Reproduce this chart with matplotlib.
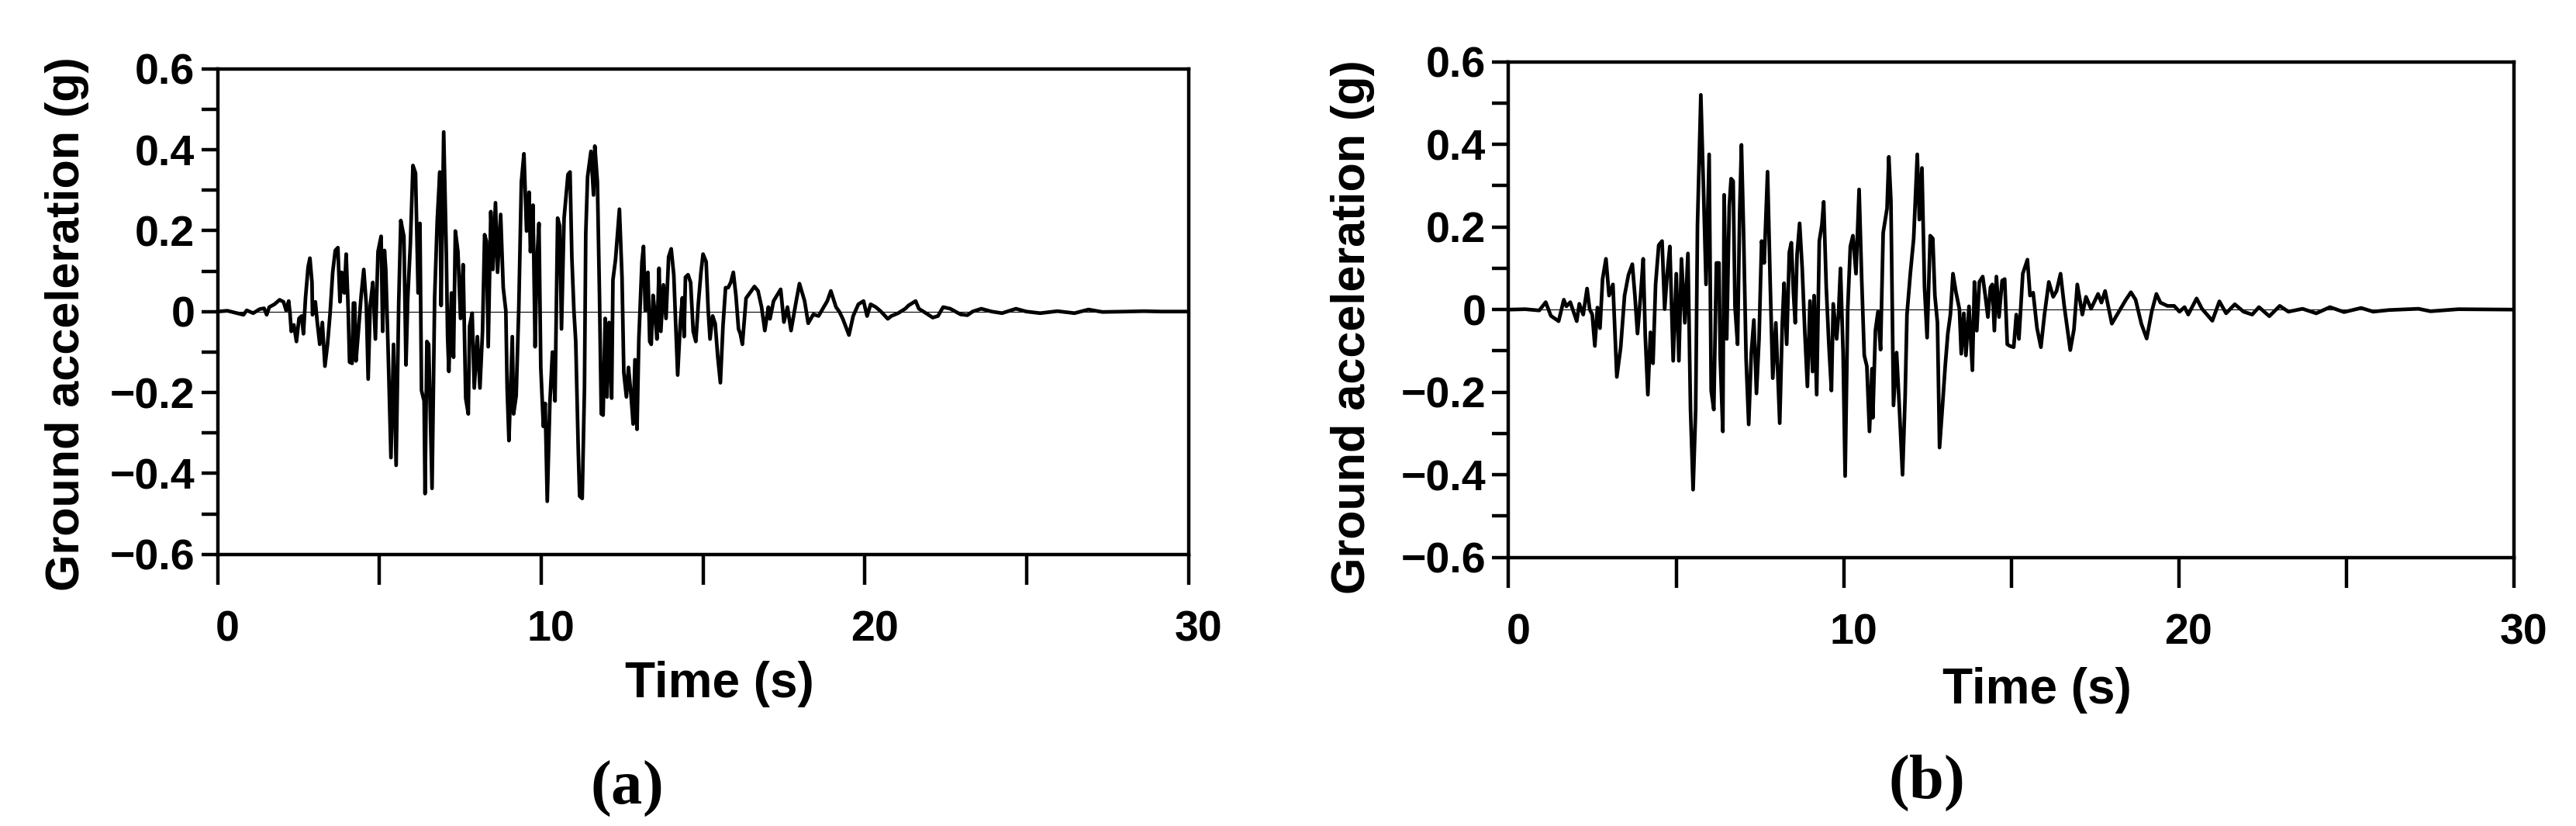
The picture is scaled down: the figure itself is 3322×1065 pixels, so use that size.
import numpy as np
import matplotlib
matplotlib.use('Agg')
import matplotlib.pyplot as plt
from matplotlib import font_manager
from matplotlib.transforms import ScaledTranslation

plt.rcParams['font.family'] = 'Liberation Sans'
plt.rcParams['font.weight'] = 'bold'
plt.rcParams['mathtext.fontset'] = 'custom'
plt.rcParams['mathtext.rm'] = 'Liberation Serif'
plt.rcParams['mathtext.bf'] = 'Liberation Serif:bold'

installed = {f.name for f in font_manager.fontManager.ttflist}
tick_font = 'Liberation Sans Narrow' if 'Liberation Sans Narrow' in installed else 'Liberation Sans'

# record (a)
t_a = [0.0, 0.3, 0.6, 0.8, 0.9, 1.1, 1.3, 1.437, 1.517, 1.597, 1.757, 1.917, 2.037, 2.117, 2.197,
       2.237, 2.277, 2.357, 2.437, 2.517, 2.597, 2.653, 2.717, 2.797, 2.853, 2.917, 2.933, 3.021,
       3.077, 3.157, 3.237, 3.317, 3.397, 3.477, 3.557, 3.637, 3.717, 3.781, 3.837, 3.917, 3.973,
       4.037, 4.077, 4.157, 4.197, 4.237, 4.277, 4.357, 4.437, 4.517, 4.597, 4.653, 4.717, 4.797,
       4.877, 4.957, 5.053, 5.101, 5.157, 5.197, 5.277, 5.357, 5.437, 5.517, 5.597, 5.661, 5.757,
       5.821, 5.877, 5.957, 6.037, 6.117, 6.197, 6.253, 6.301, 6.381, 6.411, 6.467, 6.523, 6.627,
       6.707, 6.787, 6.867, 6.907, 6.987, 7.067, 7.107, 7.147, 7.227, 7.291, 7.347, 7.427, 7.507,
       7.587, 7.667, 7.747, 7.787, 7.867, 7.931, 8.027, 8.107, 8.187, 8.251, 8.307, 8.363, 8.443,
       8.507, 8.587, 8.651, 8.747, 8.827, 8.907, 8.947, 9.003, 9.107, 9.147, 9.227, 9.307, 9.387,
       9.467, 9.547, 9.627, 9.667, 9.747, 9.811, 9.867, 9.931, 9.987, 10.067, 10.123, 10.187,
       10.267, 10.347, 10.427, 10.507, 10.571, 10.627, 10.707, 10.827, 10.891, 10.947, 11.011,
       11.067, 11.147, 11.187, 11.267, 11.337, 11.377, 11.433, 11.537, 11.617, 11.657, 11.737,
       11.801, 11.857, 11.913, 11.977, 12.033, 12.097, 12.177, 12.217, 12.297, 12.417, 12.497,
       12.553, 12.633, 12.697, 12.777, 12.841, 12.897, 12.961, 13.017, 13.113, 13.161, 13.217,
       13.297, 13.353, 13.401, 13.457, 13.513, 13.577, 13.641, 13.697, 13.777, 13.857, 13.937,
       14.017, 14.097, 14.153, 14.217, 14.297, 14.361, 14.417, 14.457, 14.537, 14.617, 14.697,
       14.777, 14.857, 14.937, 15.001, 15.097, 15.161, 15.217, 15.297, 15.377, 15.457, 15.537,
       15.617, 15.697, 15.777, 15.857, 15.937, 16.017, 16.097, 16.153, 16.217, 16.33, 16.43, 16.59,
       16.70, 16.81, 16.91, 17.02, 17.07, 17.18, 17.40, 17.50, 17.61, 17.72, 17.88, 17.98, 18.14,
       18.25, 18.41, 18.57, 18.68, 18.84, 18.95, 19.11, 19.21, 19.32, 19.51, 19.64, 19.80, 19.96,
       20.07, 20.18, 20.34, 20.50, 20.71, 20.82, 21.03, 21.25, 21.35, 21.57, 21.67, 21.89, 22.10,
       22.26, 22.42, 22.64, 22.96, 23.17, 23.33, 23.60, 23.92, 24.24, 24.67, 24.99, 25.42, 25.95,
       26.48, 26.91, 27.34, 28.09, 28.62, 29.16, 30.0]
acc_a = [0.0, 0.002, -0.004, -0.008, 0.003, -0.004, 0.006, 0.008, -0.008, 0.011, 0.018, 0.029, 0.024,
         0.003, 0.026, -0.004, -0.049, -0.033, -0.074, -0.017, -0.011, -0.055, 0.034, 0.110, 0.132,
         0.072, -0.008, 0.024, -0.024, -0.081, -0.027, -0.135, -0.081, -0.004, 0.097, 0.151, 0.158,
         0.024, 0.097, 0.046, 0.142, 0.002, -0.125, -0.128, 0.021, 0.021, -0.122, -0.043, 0.040,
         0.104, 0.015, -0.167, 0.015, 0.072, -0.068, 0.148, 0.186, -0.049, 0.151, 0.104, -0.116,
         -0.361, -0.081, -0.380, 0.021, 0.225, 0.186, -0.132, 0.034, 0.167, 0.361, 0.342, 0.046,
         0.218, -0.195, -0.221, -0.450, -0.074, -0.081, -0.437, 0.034, 0.225, 0.345, 0.015, 0.444,
         0.148, -0.062, -0.148, 0.046, -0.113, 0.199, 0.148, -0.017, 0.116, -0.214, -0.253, -0.036,
         -0.004, -0.189, -0.062, -0.189, -0.049, 0.190, 0.174, -0.087, 0.247, 0.104, 0.269, 0.097,
         0.240, 0.059, 0.002, -0.189, -0.319, -0.062, -0.253, -0.208, 0.008, 0.320, 0.390, 0.199,
         0.295, 0.148, 0.263, -0.087, 0.123, 0.218, -0.138, -0.284, -0.227, -0.469, -0.227, -0.100,
         -0.221, 0.231, 0.212, -0.043, 0.231, 0.339, 0.345, 0.135, 0.002, -0.074, -0.348, -0.456,
         -0.462, -0.189, 0.193, 0.333, 0.396, 0.288, 0.409, 0.320, 0.040, -0.253, -0.256, -0.017,
         -0.211, -0.027, -0.214, 0.078, 0.129, 0.253, 0.085, -0.151, -0.211, -0.138, -0.208, -0.278,
         -0.119, -0.291, -0.068, 0.123, 0.161, 0.002, 0.097, -0.074, -0.081, 0.040, -0.004, -0.068,
         0.107, -0.049, 0.066, -0.017, 0.135, 0.155, 0.091, -0.024, -0.157, -0.030, 0.034, -0.062,
         0.085, 0.091, 0.072, -0.049, -0.074, 0.021, 0.097, 0.142, 0.123, 0.002, -0.068, -0.011,
         -0.030, -0.113, -0.176, -0.036, 0.059, 0.059, 0.072, 0.097, 0.040, -0.043, -0.055, -0.081,
         0.033, 0.044, 0.062, 0.051, 0.011, -0.047, 0.011, -0.018, 0.026, 0.055, -0.026, 0.011,
         -0.047, 0.026, 0.069, 0.026, -0.029, -0.007, -0.011, 0.004, 0.026, 0.051, 0.011, 0.0,
         -0.018, -0.058, -0.011, 0.018, 0.026, -0.011, 0.018, 0.011, 0.0, -0.018, -0.011, -0.004,
         0.007, 0.015, 0.026, 0.007, -0.004, -0.015, -0.011, 0.011, 0.007, -0.007, -0.009, 0.0,
         0.007, 0.0, -0.004, 0.007, 0.0, -0.004, 0.001, -0.004, 0.005, -0.001, 0.0, 0.001, 0.0, 0.0]

# record (b)
t_b = [0.0, 0.5, 0.914, 1.107, 1.261, 1.493, 1.647, 1.724, 1.840, 2.033, 2.110, 2.226, 2.341, 2.419,
       2.496, 2.573, 2.650, 2.727, 2.804, 2.905, 2.997, 3.113, 3.229, 3.345, 3.460, 3.576, 3.692,
       3.769, 3.846, 3.939, 4.016, 4.078, 4.155, 4.232, 4.309, 4.386, 4.479, 4.579, 4.656, 4.733,
       4.811, 4.911, 5.003, 5.081, 5.158, 5.258, 5.351, 5.428, 5.505, 5.582, 5.636, 5.736, 5.814,
       5.891, 5.984, 6.045, 6.123, 6.200, 6.277, 6.315, 6.393, 6.431, 6.508, 6.585, 6.639, 6.701,
       6.755, 6.832, 6.894, 6.948, 7.010, 7.087, 7.164, 7.241, 7.318, 7.396, 7.473, 7.550, 7.627,
       7.727, 7.805, 7.882, 7.974, 8.090, 8.167, 8.221, 8.298, 8.376, 8.437, 8.499, 8.553, 8.607,
       8.684, 8.761, 8.839, 8.916, 8.993, 9.070, 9.116, 9.193, 9.271, 9.348, 9.402, 9.479, 9.556,
       9.633, 9.687, 9.788, 9.842, 9.903, 9.981, 10.042, 10.119, 10.197, 10.274, 10.366, 10.459,
       10.536, 10.613, 10.690, 10.768, 10.845, 10.868, 10.945, 11.022, 11.099, 11.177, 11.292,
       11.346, 11.408, 11.485, 11.578, 11.655, 11.755, 11.833, 11.887, 11.987, 12.087, 12.195,
       12.257, 12.334, 12.411, 12.488, 12.581, 12.658, 12.720, 12.797, 12.859, 12.951, 13.028,
       13.106, 13.183, 13.260, 13.352, 13.453, 13.507, 13.584, 13.646, 13.738, 13.839, 13.900,
       13.970, 14.047, 14.147, 14.224, 14.302, 14.379, 14.433, 14.495, 14.556, 14.634, 14.726,
       14.803, 14.880, 14.958, 15.073, 15.150, 15.228, 15.343, 15.482, 15.559, 15.652, 15.768,
       15.884, 15.99, 16.12, 16.25, 16.35, 16.47, 16.58, 16.76, 16.87, 16.97, 17.12, 17.23, 17.38,
       17.59, 17.69, 17.80, 17.90, 18.00, 18.11, 18.21, 18.42, 18.57, 18.71, 18.88, 19.04, 19.19,
       19.33, 19.45, 19.66, 19.86, 20.02, 20.17, 20.28, 20.53, 20.69, 20.84, 21.00, 21.21, 21.41,
       21.67, 21.93, 22.19, 22.39, 22.70, 23.01, 23.27, 23.69, 24.10, 24.51, 24.93, 25.44, 25.80,
       26.27, 27.15, 27.51, 28.34, 30.0]
acc_b = [0.0, 0.001, -0.002, 0.018, -0.015, -0.028, 0.024, 0.008, 0.018, -0.028, 0.014, -0.012, 0.051,
         0.001, -0.012, -0.088, 0.005, -0.045, 0.074, 0.123, 0.034, 0.061, -0.163, -0.091, 0.034,
         0.084, 0.110, 0.034, -0.058, 0.034, 0.123, -0.064, -0.206, -0.055, -0.130, 0.061, 0.156,
         0.166, 0.001, 0.087, 0.153, -0.124, 0.087, -0.124, 0.123, -0.032, 0.136, -0.242, -0.436,
         -0.242, 0.205, 0.520, 0.297, 0.061, 0.376, -0.196, -0.242, 0.113, 0.113, -0.117, -0.295,
         0.278, -0.071, 0.251, 0.317, 0.311, 0.008, -0.084, 0.232, 0.399, 0.192, -0.120, -0.278,
         -0.107, -0.025, -0.203, -0.071, 0.166, 0.113, 0.334, 0.067, -0.166, -0.032, -0.275, -0.032,
         0.064, -0.084, 0.139, 0.162, 0.041, -0.032, 0.133, 0.209, 0.100, -0.055, -0.186, 0.021,
         -0.150, 0.034, -0.206, 0.166, 0.205, 0.261, 0.054, -0.084, -0.196, 0.014, -0.071, -0.015,
         0.100, -0.104, -0.403, 0.001, 0.153, 0.179, 0.087, 0.291, 0.074, -0.111, -0.137, -0.295,
         -0.143, -0.262, -0.051, -0.005, -0.097, 0.186, 0.245, 0.370, 0.264, -0.232, -0.104, -0.229,
         -0.400, -0.209, -0.012, 0.087, 0.172, 0.376, 0.218, 0.343, 0.054, -0.068, 0.179, 0.172,
         0.034, -0.032, -0.334, -0.229, -0.137, -0.058, -0.012, 0.087, 0.041, 0.001, -0.107, -0.009,
         -0.111, 0.008, -0.147, 0.067, -0.051, 0.067, 0.080, 0.034, -0.018, 0.054, 0.061, -0.051,
         0.080, -0.018, 0.070, 0.074, -0.084, -0.088, -0.091, -0.012, -0.071, 0.087, 0.121, 0.034,
         0.041, -0.045, -0.091, -0.012, 0.067, 0.031, 0.045, 0.087, 0.009, -0.098, -0.048, 0.061,
         -0.012, 0.031, 0.002, 0.038, 0.017, 0.045, 0.006, -0.034, -0.019, -0.005, 0.024, 0.042,
         0.024, -0.034, -0.070, -0.005, 0.038, 0.017, 0.009, 0.009, -0.005, 0.006, -0.012, 0.027,
         0.002, -0.012, -0.027, 0.020, -0.009, 0.013, -0.005, -0.012, 0.006, -0.016, 0.009, -0.005,
         0.002, -0.009, 0.006, -0.006, 0.004, -0.005, -0.001, 0.002, -0.004, 0.001, 0.0]

x_ticks = [0, 5, 10, 15, 20, 25, 30]
x_labels = ['0', '', '10', '', '20', '', '30']
y_ticks = [-0.6, -0.5, -0.4, -0.3, -0.2, -0.1, 0.0, 0.1, 0.2, 0.3, 0.4, 0.5, 0.6]
y_labels = ['\u22120.6', '', '\u22120.4', '', '\u22120.2', '', '0', '', '0.2', '', '0.4', '', '0.6']

W, H = 3323, 1065
fig = plt.figure(figsize=(W / 100, H / 100), dpi=100)


def px(x, y):
    return x / W, 1 - y / H


def draw(rect, t, acc, ylab_xy, xlab_xy, tag_xy, tag):
    ax = fig.add_axes(rect)
    ax.plot(t, acc, color='black', lw=3.4)
    ax.axhline(0, color='black', lw=0.8, zorder=1)
    ax.set_xlim(0, 30)
    ax.set_ylim(-0.6, 0.6)
    ax.set_xticks(x_ticks)
    ax.set_xticklabels(x_labels)
    ax.set_yticks(y_ticks)
    ax.set_yticklabels(y_labels)
    ax.tick_params(axis='x', direction='out', length=28, width=3.2, pad=24, labelsize=40)
    ax.tick_params(axis='y', direction='out', length=15, width=3.2, pad=6, labelsize=40)
    for lab in ax.get_xticklabels() + ax.get_yticklabels():
        lab.set_family(tick_font)
        lab.set_weight('bold')
    for lab in ax.get_xticklabels():
        lab.set_transform(lab.get_transform() + ScaledTranslation(9 / 72, 0, fig.dpi_scale_trans))
    for s in ax.spines.values():
        s.set_linewidth(3.2)
    fig.text(*px(*ylab_xy), 'Ground acceleration (g)', rotation=90, ha='center', va='center',
             fontsize=44, fontweight='bold')
    fig.text(*px(*xlab_xy), 'Time (s)', ha='center', va='center', fontsize=46, fontweight='bold')
    fig.text(*px(*tag_xy), r'$\mathrm{(}\mathbf{%s}\mathrm{)}$' % tag, ha='center', va='center',
             fontsize=58)
    return ax


draw([280.6 / W, 1 - 714.7 / H, 1252 / W, 626 / H], t_a, acc_a, (87, 418), (928, 882), (807, 1017), 'a')
draw([1945.5 / W, 1 - 718.7 / H, 1296.5 / W, 639 / H], t_b, acc_b, (1745, 422), (2627, 890), (2483, 1010), 'b')

fig.savefig('out.png', dpi=100)
